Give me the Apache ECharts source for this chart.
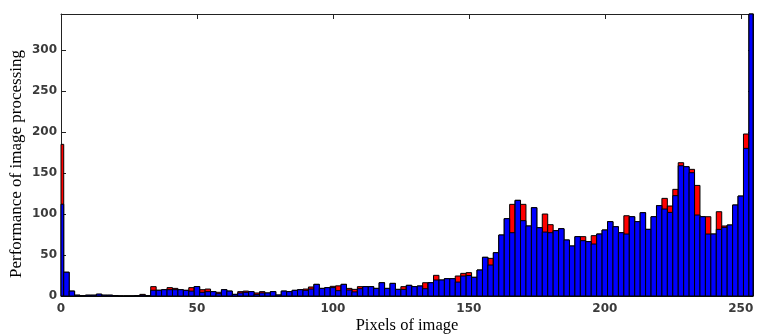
<!DOCTYPE html>
<html>
<head>
<meta charset="utf-8">
<script src="https://cdn.jsdelivr.net/npm/echarts@6/dist/echarts.min.js"></script>
<style>
	html, body { margin: 0; padding: 0; background: #fff; }
	#histContainer { width: 759px; height: 334px; }
</style>
</head>
<body>
<div id="histContainer"></div>
<script>
	// 128 bins over 0..255, each bin 2 grey levels wide
	var binCount = 128;
	var binWidth = 2;
	var binCenters = [];
	for (var i = 0; i < binCount; i++) binCenters.push(i * binWidth);

	// red histogram (drawn behind)
	var redCounts = [185, 29, 6, 1, 0.5, 1, 1, 2, 1, 1, 0.5, 0, 0, 0, 0.5, 2,
		0.5, 11.4, 7, 7.7, 10.2, 9.3, 7.7, 6.9, 10.2, 11.5, 7.7, 8.5, 5.3, 4.5, 7.7, 6,
		2, 5.3, 6, 5.3, 3.7, 5.3, 3.7, 5.3, 1.2, 6, 5.3, 6.9, 7.7, 8.5, 11, 14.2,
		9.3, 10.2, 11.8, 12.4, 14.2, 9.3, 8.1, 11.4, 11.4, 11.4, 9.3, 16.2, 9.3, 15.4, 8.1, 11.4,
		13, 11.4, 12.2, 16.2, 16.2, 25.2, 19.5, 21.1, 21.1, 24.4, 27.6, 28.5, 22.8, 31.7, 47.2, 45.9,
		52.8, 74.4, 94.3, 111.8, 116.7, 111.8, 85.4, 107.7, 83.3, 100, 87, 79.7, 82.1, 68.3, 61, 72.4,
		72.4, 66.3, 73.6, 75.6, 80.5, 90.7, 84.5, 77.2, 97.9, 96.7, 90.7, 101.6, 81.3, 96.7, 110.2, 119.1,
		109.8, 130.1, 162.6, 157.7, 154.5, 134.9, 96.7, 96.7, 75.6, 102.8, 85.4, 86.6, 111, 121.9, 197.6, 500];

	// blue histogram (drawn in front)
	var blueCounts = [112, 29, 6, 1, 0.5, 1, 1, 2.4, 1, 1, 0.5, 0, 0, 0, 0.5, 1,
		0.5, 7, 7, 7.7, 7.7, 7.7, 7.7, 6.9, 6, 11.5, 4.5, 5.3, 5.3, 2.8, 7.7, 6,
		2, 3.7, 4.5, 5.3, 2, 3.7, 3.7, 5.3, 1.2, 6, 5.3, 6.9, 7.7, 6.9, 8.5, 14.2,
		9.3, 10.2, 10.2, 6.5, 14.2, 7.3, 5, 8.9, 11.4, 11.4, 9.3, 16.2, 9.3, 15.4, 8.1, 8.1,
		13, 11.4, 12.2, 8.9, 16.2, 19.5, 19.5, 21.1, 21.1, 17, 24.4, 25, 22.8, 31.7, 47.2, 37.8,
		52.8, 74.4, 94.3, 77.2, 116.7, 91.9, 85.4, 107.7, 83.3, 78, 77.2, 79.7, 82.1, 68.3, 61, 72.4,
		67.5, 66.3, 63.4, 75.6, 80.5, 90.7, 84.5, 77.2, 75.6, 96.7, 90.7, 101.6, 81.3, 96.7, 110.2, 106.1,
		102, 122.4, 158.9, 157.7, 150.4, 98.8, 96.7, 75.6, 75.6, 81.3, 83.7, 86.6, 111, 121.9, 180.1, 500];

	var xMax = 254.5;
	var yMax = 344;

	function pairs(vals) {
		return binCenters.map(function(x, k) { return [x, vals[k]]; });
	}

	// histogram bar, cut to the plot box (first and last bins are half outside)
	function renderBin(params, api) {
		var x = api.value(0);
		var lo = api.coord([x - binWidth / 2, 0]);
		var hi = api.coord([x + binWidth / 2, api.value(1)]);
		var cs = params.coordSys;
		var shape = echarts.graphic.clipRectByRect({
			x: lo[0],
			y: hi[1],
			width: hi[0] - lo[0],
			height: lo[1] - hi[1]
		}, { x: cs.x, y: cs.y, width: cs.width, height: cs.height });
		return shape && {
			type: 'rect',
			shape: shape,
			style: api.style()
		};
	}

	var myChart = echarts.init(document.getElementById('histContainer'));

	var lineCol = '#222';
	var tickLabel = {
		fontFamily: 'DejaVu Sans',
		fontWeight: 'bold',
		fontSize: 12,
		color: '#3b3b3b',
		showMaxLabel: false
	};
	// box axis: line + inward ticks, no labels
	function boxAxis(pos, max) {
		return {
			type: 'value',
			position: pos,
			min: 0,
			max: max,
			interval: 50,
			axisLine: { show: true, onZero: false, lineStyle: { color: lineCol } },
			axisTick: { inside: true, length: 5, lineStyle: { color: lineCol } },
			axisLabel: { show: false },
			splitLine: { show: false }
		};
	}

	var option = {
		animation: false,
		grid: { left: 61, right: 6, top: 14, bottom: 38, outerBoundsMode: 'none' },
		xAxis: [{
				type: 'value',
				position: 'bottom',
				min: 0,
				max: xMax,
				interval: 50,
				name: 'Pixels of image',
				nameLocation: 'middle',
				nameGap: 21,
				nameMoveOverlap: false,
				nameTextStyle: { fontFamily: 'Liberation Serif', fontSize: 16.5, color: '#000' },
				axisLine: { show: true, onZero: false, lineStyle: { color: lineCol } },
				axisTick: { inside: true, length: 5, lineStyle: { color: lineCol } },
				axisLabel: Object.assign({ margin: 7 }, tickLabel),
				splitLine: { show: false }
			},
			boxAxis('top', xMax)
		],
		yAxis: [{
				type: 'value',
				position: 'left',
				min: 0,
				max: yMax,
				interval: 50,
				name: 'Performance of image processing',
				nameLocation: 'middle',
				nameGap: 36,
				nameMoveOverlap: false,
				nameTextStyle: { fontFamily: 'Liberation Serif', fontSize: 17, color: '#000', padding: [0, 18, 0, 0] },
				axisLine: { show: true, onZero: false, lineStyle: { color: lineCol } },
				axisTick: { inside: true, length: 5, lineStyle: { color: lineCol } },
				axisLabel: Object.assign({ margin: 4 }, tickLabel),
				splitLine: { show: false }
			},
			boxAxis('right', yMax)
		],
		series: [{
				name: 'red',
				type: 'custom',
				renderItem: renderBin,
				encode: { x: 0, y: 1 },
				itemStyle: { color: '#ff0000', borderColor: '#000', borderWidth: 1 },
				data: pairs(redCounts)
			},
			{
				name: 'blue',
				type: 'custom',
				renderItem: renderBin,
				encode: { x: 0, y: 1 },
				itemStyle: { color: '#0000ff', borderColor: '#000', borderWidth: 1 },
				data: pairs(blueCounts)
			}
		]
	};

	myChart.setOption(option);
</script>
</body>
</html>
